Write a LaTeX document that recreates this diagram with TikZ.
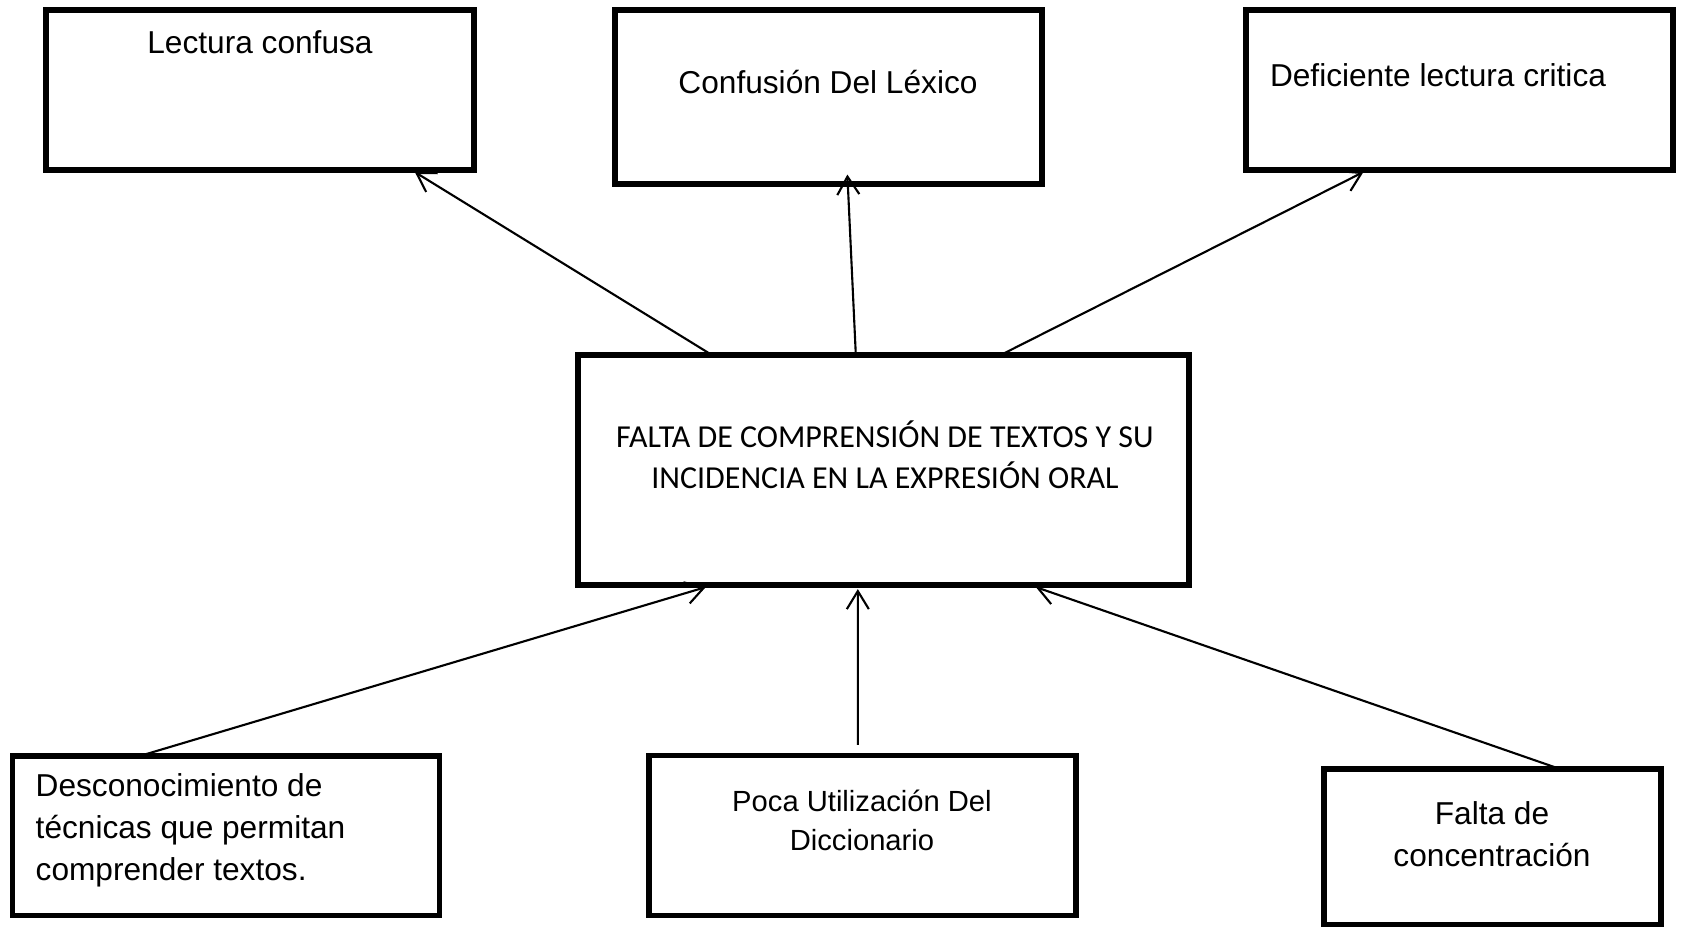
\documentclass[tikz,border=0pt]{standalone}
\usepackage{fontspec}
\setmainfont{Liberation Sans}
\newfontfamily\calib{Carlito}
\usetikzlibrary{arrows.meta,calc}
\tikzset{
  caja/.style={draw,line width=1.55pt,outer sep=0pt,inner sep=0pt},
  txt/.style={font=\fontsize{9}{12}\selectfont,align=center,inner sep=0pt},
  flecha/.style={line width=0.6pt,-{Straight Barb[length=1.8mm,width=2.2mm]}}
}

\begin{document}
\begin{tikzpicture}[x=0.01cm,y=-0.01cm]
  \useasboundingbox (0,0) rectangle (1684,929);
  % efectos
  \node[caja,minimum width=4.28cm,minimum height=1.60cm] (lectura) at (260,90) {};
  \node[caja,minimum width=4.27cm,minimum height=1.74cm] (lexico) at (828.5,97) {};
  \node[caja,minimum width=4.27cm,minimum height=1.60cm] (critica) at (1459.5,90) {};
  \node[txt] (tlectura) at (260,42) {Lectura confusa};
  \node[txt] (tlexico) at (828,82) {Confusión Del Léxico};
  \node[txt] (tcritica) at (1438,75) {Deficiente lectura critica};
  % problema
  \node[caja,minimum width=6.11cm,minimum height=2.30cm] (central) at (883.5,470) {};
  \node[txt,font=\calib\fontsize{9.1}{11.6}\selectfont] (tcentral) at (885,454.5)
    {FALTA DE COMPRENSIÓN DE TEXTOS Y SU\\INCIDENCIA EN LA EXPRESIÓN ORAL};
  % causas
  \node[caja,minimum width=4.27cm,minimum height=1.595cm] (tecnicas) at (226,835.75) {};
  \node[caja,minimum width=4.27cm,minimum height=1.60cm] (diccionario) at (862.5,835.5) {};
  \node[caja,minimum width=3.37cm,minimum height=1.555cm] (concentra) at (1492.5,846.75) {};
  \node[txt,align=left,anchor=west] (ttecnicas) at (35,830)
    {Desconocimiento de\\técnicas que permitan\\comprender textos.};
  \node[txt,font=\fontsize{8.3}{11}\selectfont] (tdiccionario) at (862,820.5)
    {Poca Utilización Del\\Diccionario};
  \node[txt] (tconcentra) at (1492,834.5) {Falta de\\concentración};
  % flechas
  \draw[flecha] ($(central.north west)+(134,0)$) -- ($(lectura.south west)+(369,2)$);
  \draw[flecha] ($(central.north west)+(278,0)$) -- ($(lexico.south west)+(232.5,-9.5)$);
  \draw[flecha] ($(central.north west)+(423,0)$) -- ($(critica.south west)+(117.5,2)$);
  \draw[flecha] ($(tecnicas.north west)+(127.5,0)$) -- ($(central.south west)+(128,2)$);
  \draw[flecha] ($(diccionario.north west)+(209,-10.5)$) -- ($(central.south west)+(280,4)$);
  \draw[flecha] ($(concentra.north west)+(236,0)$) -- ($(central.south west)+(458,2)$);
\end{tikzpicture}
\end{document}
